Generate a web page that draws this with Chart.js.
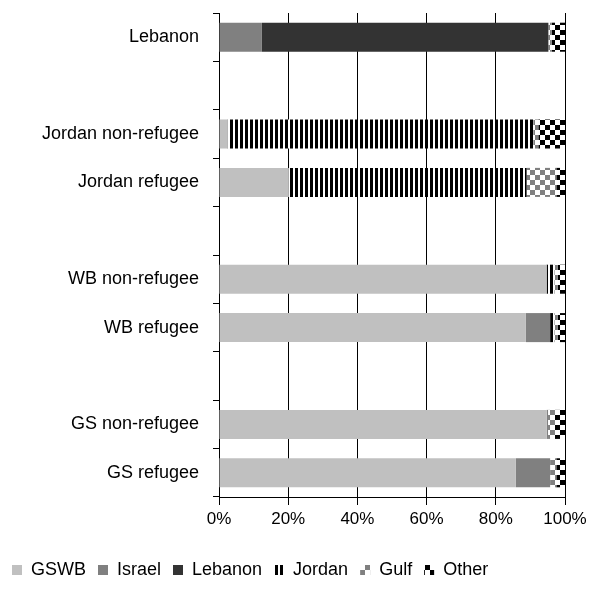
<!DOCTYPE html>
<html>
<head>
<meta charset="utf-8">
<title>Destination of migrants by origin group</title>
<script src="https://cdn.jsdelivr.net/npm/chart.js@4/dist/chart.umd.min.js"></script>
<style>
  html, body { margin: 0; padding: 0; background: #ffffff; }
  #wrap { width: 592px; height: 591px; position: relative; }
</style>
</head>
<body>
<div id="wrap"><canvas id="chart" width="592" height="591"></canvas></div>
<script>
// Origin groups, top to bottom; empty strings are spacer rows between groups
const categories = ['Lebanon', '', 'Jordan non-refugee', 'Jordan refugee', '',
  'WB non-refugee', 'WB refugee', '', 'GS non-refugee', 'GS refugee'];

// Share of each destination (percent)
const gswb    = [0,    null,  2.5, 20.2, null, 94.7, 88.7, null, 94.7, 85.8];
const israel  = [12.4, null,  0,    0,   null,  0,    7.0, null,  0.4,  9.9];
const lebanon = [82.8, null,  0,    0,   null,  0,    0,   null,  0,    0];
const jordan  = [0,    null, 88.3, 68.7, null,  2.2,  1.2, null,  0,    0];
const gulf    = [1.0,  null,  1.5,  8.6, null,  1.0,  1.0, null,  2.0,  1.8];
const other   = [3.8,  null,  7.7,  2.5, null,  2.1,  2.1, null,  2.9,  2.5];

const xTicks = [0, 20, 40, 60, 80, 100];

const FONT = "'Liberation Sans', Arial, Helvetica, sans-serif";

// Small repeating tiles used as fills
function makePattern(w, h, draw) {
  const c = document.createElement('canvas');
  c.width = w; c.height = h;
  const g = c.getContext('2d');
  g.fillStyle = '#ffffff';
  g.fillRect(0, 0, w, h);
  draw(g);
  return document.getElementById('chart').getContext('2d').createPattern(c, 'repeat');
}
const stripePattern = makePattern(5, 5, g => { g.fillStyle = '#000000'; g.fillRect(0, 0, 3, 5); });
const grayCheck = makePattern(10, 10, g => {
  g.fillStyle = '#808080'; g.fillRect(0, 0, 5, 5); g.fillRect(5, 5, 5, 5);
});
const blackCheck = makePattern(10, 10, g => {
  g.fillStyle = '#000000'; g.fillRect(0, 0, 5, 5); g.fillRect(5, 5, 5, 5);
});

function series(label, data, fill) {
  return {
    label, data,
    backgroundColor: fill,
    borderWidth: 0,
    barPercentage: 0.6,
    categoryPercentage: 1.0
  };
}

new Chart(document.getElementById('chart'), {
  type: 'bar',
  data: {
    labels: categories,
    datasets: [
      series('GSWB', gswb, '#c0c0c0'),
      series('Israel', israel, '#808080'),
      series('Lebanon', lebanon, '#333333'),
      series('Jordan', jordan, stripePattern),
      series('Gulf', gulf, grayCheck),
      series('Other', other, blackCheck)
    ]
  },
  options: {
    indexAxis: 'y',
    responsive: false,
    animation: false,
    events: [],
    layout: { padding: { top: 13, right: 27, bottom: 2, left: 0 } },
    plugins: {
      tooltip: { enabled: false },
      legend: {
        position: 'bottom',
        align: 'start',
        labels: {
          boxWidth: 10,
          boxHeight: 10,
          padding: 12,
          color: '#000000',
          font: { family: FONT, size: 18 }
        }
      }
    },
    scales: {
      x: {
        stacked: true,
        min: 0,
        max: 100,
        afterBuildTicks: s => { s.ticks = xTicks.map(v => ({ value: v })); },
        afterFit: s => { s.height = 52; },
        ticks: {
          color: '#000000',
          padding: 4,
          font: { family: FONT, size: 17 },
          callback: v => v + '%'
        },
        grid: { color: '#000000', lineWidth: 1, tickLength: 8, drawOnChartArea: true },
        border: { color: '#000000', width: 1 }
      },
      y: {
        stacked: true,
        offset: true,
        // labels sit between boundary ticks, so no extra room above/below is needed
        afterFit: s => { s.width = 219; s.paddingTop = 0; s.paddingBottom = 0; },
        ticks: {
          color: '#000000',
          padding: 14,
          autoSkip: false,
          font: { family: FONT, size: 18 }
        },
        grid: { offset: true, color: '#000000', lineWidth: 1, tickLength: 6, drawOnChartArea: false },
        border: { color: '#000000', width: 1 }
      }
    }
  }
});
</script>
</body>
</html>
